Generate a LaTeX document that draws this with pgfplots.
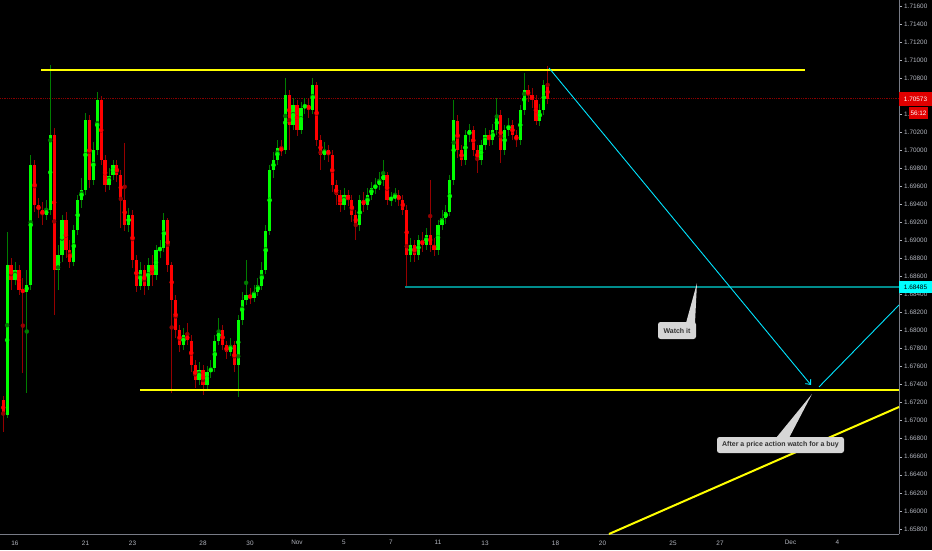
\documentclass[border=0pt]{standalone}
\usepackage{fontspec}
\setmainfont{Liberation Sans}
\usepackage{pgfplots}
\pgfplotsset{compat=1.18}
\usepackage{pgfplotstable}
\usetikzlibrary{arrows.meta}

\definecolor{upbody}{RGB}{0,255,0}
\definecolor{dnbody}{RGB}{255,0,0}
\definecolor{upwick}{RGB}{0,125,0}
\definecolor{dnwick}{RGB}{150,0,0}
\definecolor{ticktext}{RGB}{178,181,190}
\definecolor{axisline}{RGB}{120,123,134}
\definecolor{tealline}{RGB}{0,140,140}
\definecolor{cyanline}{RGB}{0,229,255}
\definecolor{callout}{RGB}{214,214,214}
\definecolor{callouttext}{RGB}{50,50,50}
\definecolor{pricered}{RGB}{224,0,0}
\definecolor{dotred}{RGB}{135,0,0}
\definecolor{lblcyan}{RGB}{0,255,255}
\definecolor{trendyellow}{RGB}{255,255,0}

\pgfplotstableread{
k o h l c
-3 1.6723 1.6728 1.6688 1.6706
-2 1.6706 1.6909 1.6703 1.6873
-1 1.6873 1.6880 1.6845 1.6856
0 1.6856 1.6876 1.6850 1.6867
1 1.6867 1.6873 1.6839 1.6845
2 1.6845 1.6858 1.6753 1.6843
3 1.6843 1.6867 1.6731 1.6850
4 1.6850 1.6995 1.6845 1.6984
5 1.6984 1.6989 1.6931 1.6939
6 1.6939 1.6947 1.6925 1.6934
7 1.6934 1.6943 1.6917 1.6928
8 1.6928 1.6945 1.6923 1.6934
9 1.6934 1.7094 1.6928 1.7017
10 1.7017 1.7025 1.6817 1.6867
11 1.6867 1.6895 1.6845 1.6884
12 1.6884 1.6928 1.6876 1.6923
13 1.6923 1.6931 1.6880 1.6889
14 1.6889 1.6900 1.6869 1.6876
15 1.6876 1.6917 1.6872 1.6911
16 1.6911 1.6950 1.6906 1.6945
17 1.6945 1.6969 1.6936 1.6956
18 1.6956 1.7041 1.6950 1.7033
19 1.7033 1.7039 1.6958 1.6967
20 1.6967 1.7009 1.6961 1.7000
21 1.7000 1.7065 1.6995 1.7056
22 1.7056 1.7060 1.6984 1.6989
23 1.6989 1.6995 1.6954 1.6961
24 1.6961 1.6980 1.6956 1.6972
25 1.6972 1.6989 1.6967 1.6984
26 1.6984 1.6989 1.6965 1.6972
27 1.6972 1.6978 1.6914 1.6945
28 1.6945 1.7008 1.6911 1.6917
29 1.6917 1.6936 1.6909 1.6928
30 1.6928 1.6934 1.6869 1.6878
31 1.6878 1.6884 1.6843 1.6850
32 1.6850 1.6876 1.6845 1.6867
33 1.6867 1.6873 1.6839 1.6850
34 1.6850 1.6880 1.6845 1.6873
35 1.6873 1.6884 1.6850 1.6862
36 1.6862 1.6895 1.6856 1.6889
37 1.6889 1.6900 1.6880 1.6892
38 1.6892 1.6930 1.6887 1.6923
39 1.6923 1.6925 1.6865 1.6873
40 1.6873 1.6876 1.6731 1.6834
41 1.6834 1.6839 1.6792 1.6801
42 1.6801 1.6806 1.6776 1.6784
43 1.6784 1.6803 1.6778 1.6795
44 1.6795 1.6808 1.6784 1.6789
45 1.6789 1.6795 1.6754 1.6762
46 1.6762 1.6767 1.6736 1.6745
47 1.6745 1.6765 1.6740 1.6756
48 1.6756 1.6762 1.6728 1.6740
49 1.6740 1.6761 1.6734 1.6754
50 1.6754 1.6767 1.6747 1.6758
51 1.6758 1.6795 1.6754 1.6789
52 1.6789 1.6814 1.6784 1.6801
53 1.6801 1.6806 1.6778 1.6784
54 1.6784 1.6789 1.6769 1.6776
55 1.6776 1.6792 1.6772 1.6784
56 1.6784 1.6789 1.6754 1.6762
57 1.6762 1.6817 1.6726 1.6812
58 1.6812 1.6843 1.6806 1.6834
59 1.6834 1.6878 1.6828 1.6839
60 1.6839 1.6847 1.6829 1.6836
61 1.6836 1.6850 1.6832 1.6843
62 1.6843 1.6858 1.6838 1.6850
63 1.6850 1.6876 1.6845 1.6867
64 1.6867 1.6917 1.6863 1.6911
65 1.6911 1.6984 1.6906 1.6978
66 1.6978 1.6998 1.6969 1.6989
67 1.6989 1.7011 1.6984 1.7002
68 1.7002 1.7011 1.6994 1.7000
69 1.7000 1.7080 1.6996 1.7061
70 1.7061 1.7067 1.7000 1.7028
71 1.7028 1.7058 1.7022 1.7050
72 1.7050 1.7056 1.7016 1.7022
73 1.7022 1.7053 1.7018 1.7047
74 1.7047 1.7058 1.7040 1.7050
75 1.7050 1.7058 1.7036 1.7045
76 1.7045 1.7080 1.7040 1.7072
77 1.7072 1.7076 1.7005 1.7011
78 1.7011 1.7017 1.6978 1.6995
79 1.6995 1.7009 1.6989 1.7000
80 1.7000 1.7006 1.6987 1.6995
81 1.6995 1.7000 1.6954 1.6961
82 1.6961 1.6967 1.6939 1.6950
83 1.6950 1.6956 1.6931 1.6939
84 1.6939 1.6958 1.6934 1.6950
85 1.6950 1.6956 1.6938 1.6945
86 1.6945 1.6950 1.6920 1.6928
87 1.6928 1.6934 1.6900 1.6917
88 1.6917 1.6950 1.6911 1.6945
89 1.6945 1.6954 1.6931 1.6939
90 1.6939 1.6958 1.6934 1.6950
91 1.6950 1.6965 1.6945 1.6958
92 1.6958 1.6969 1.6951 1.6961
93 1.6961 1.6976 1.6956 1.6967
94 1.6967 1.6989 1.6960 1.6972
95 1.6972 1.6976 1.6939 1.6945
96 1.6945 1.6954 1.6938 1.6947
97 1.6947 1.6958 1.6943 1.6950
98 1.6950 1.6956 1.6938 1.6945
99 1.6945 1.6950 1.6928 1.6934
100 1.6934 1.6939 1.6848 1.6884
101 1.6884 1.6903 1.6876 1.6895
102 1.6895 1.6900 1.6876 1.6884
103 1.6884 1.6906 1.6878 1.6900
104 1.6900 1.6909 1.6887 1.6895
105 1.6895 1.6914 1.6889 1.6906
106 1.6906 1.6967 1.6887 1.6895
107 1.6895 1.6903 1.6883 1.6889
108 1.6889 1.6923 1.6884 1.6917
109 1.6917 1.6934 1.6911 1.6925
110 1.6925 1.6939 1.6918 1.6931
111 1.6931 1.6972 1.6927 1.6967
112 1.6967 1.7056 1.6961 1.7033
113 1.7033 1.7039 1.6991 1.7000
114 1.7000 1.7006 1.6982 1.6989
115 1.6989 1.7022 1.6984 1.7017
116 1.7017 1.7029 1.7009 1.7022
117 1.7022 1.7027 1.6994 1.7000
118 1.7000 1.7006 1.6975 1.6989
119 1.6989 1.7011 1.6984 1.7006
120 1.7006 1.7025 1.7000 1.7017
121 1.7017 1.7022 1.7005 1.7011
122 1.7011 1.7029 1.7006 1.7022
123 1.7022 1.7058 1.7017 1.7039
124 1.7039 1.7045 1.6986 1.7000
125 1.7000 1.7028 1.6995 1.7022
126 1.7022 1.7036 1.7016 1.7028
127 1.7028 1.7033 1.7011 1.7017
128 1.7017 1.7022 1.7004 1.7011
129 1.7011 1.7050 1.7006 1.7045
130 1.7045 1.7086 1.7039 1.7067
131 1.7067 1.7072 1.7053 1.7061
132 1.7061 1.7069 1.7047 1.7056
133 1.7056 1.7061 1.7028 1.7033
134 1.7033 1.7051 1.7027 1.7045
135 1.7045 1.7078 1.7039 1.7072
136 1.7072 1.7094 1.7051 1.70573
}\candles

\begin{document}
\begin{tikzpicture}[x=1pt,y=1pt]
\fill[black] (0,0) rectangle (932,550);
\path[use as bounding box] (0,0) rectangle (932,550);
\begin{axis}[
  scale only axis, width=899pt, height=534pt,
  anchor=south west, at={(0pt,16pt)},
  xmin=-3.83, xmax=225.7, ymin=1.657433, ymax=1.716654,
  clip=false,
  axis x line*=bottom, axis y line*=right,
  axis line style={draw=axisline, line width=0.8pt},
  tick align=outside, major tick length=3pt,
  xtick={0,18,30,48,60,72,84,96,108,120,138,150,168,180,198,210},
  xticklabels={16,21,23,28,30,Nov,5,7,11,13,18,20,25,27,Dec,4},
  xtick style={draw=none},
  ytick={1.658,1.660,1.662,1.664,1.666,1.668,1.670,1.672,1.674,1.676,1.678,1.680,1.682,1.684,1.686,1.688,1.690,1.692,1.694,1.696,1.698,1.700,1.702,1.704,1.708,1.710,1.712,1.714,1.716},
  ytick style={draw=ticktext, line width=0.5pt},
  /pgf/number format/assume math mode=true,
  yticklabel style={/pgf/number format/.cd, fixed, fixed zerofill, precision=5, /tikz/.cd,
    font=\fontsize{6.4}{7}\selectfont, text=ticktext, inner sep=2pt},
  xticklabel style={font=\fontsize{6.4}{7}\selectfont, text=ticktext},
  scaled y ticks=false,
]
% last price dotted line
\addplot[dotred, densely dotted, line width=0.8pt, forget plot] coordinates {(-3.83,1.70573) (225.7,1.70573)};
% wicks
\addplot[only marks, mark=none, color=upwick, forget plot, restrict y to domain=1.6:1.8,
  error bars/.cd, y dir=both, y explicit, error mark=none,
  error bar style={line width=0.8pt}]
  table[x=k, y expr={ifthenelse(\thisrow{c}>\thisrow{o},(\thisrow{h}+\thisrow{l})/2,9)},
        y error expr={(\thisrow{h}-\thisrow{l})/2}] {\candles};
\addplot[only marks, mark=none, color=dnwick, forget plot, restrict y to domain=1.6:1.8,
  error bars/.cd, y dir=both, y explicit, error mark=none,
  error bar style={line width=0.8pt}]
  table[x=k, y expr={ifthenelse(\thisrow{c}<\thisrow{o},(\thisrow{h}+\thisrow{l})/2,9)},
        y error expr={(\thisrow{h}-\thisrow{l})/2}] {\candles};
% bodies
\addplot[only marks, mark=none, color=upbody, forget plot, restrict y to domain=1.6:1.8,
  error bars/.cd, y dir=both, y explicit, error mark=none,
  error bar style={line width=3.2pt}]
  table[x=k, y expr={ifthenelse(\thisrow{c}>\thisrow{o},(\thisrow{o}+\thisrow{c})/2,9)},
        y error expr={abs(\thisrow{c}-\thisrow{o})/2}] {\candles};
\addplot[only marks, mark=none, color=dnbody, forget plot, restrict y to domain=1.6:1.8,
  error bars/.cd, y dir=both, y explicit, error mark=none,
  error bar style={line width=3.2pt}]
  table[x=k, y expr={ifthenelse(\thisrow{c}<\thisrow{o},(\thisrow{o}+\thisrow{c})/2,9)},
        y error expr={abs(\thisrow{c}-\thisrow{o})/2}] {\candles};
% drawings
\addplot[trendyellow, line width=2pt, forget plot] coordinates {(6.64,1.7089) (201.7,1.7089)};
\addplot[trendyellow, line width=2pt, forget plot] coordinates {(31.9,1.6734) (225.7,1.6734)};
\addplot[trendyellow, line width=2pt, forget plot] coordinates {(151.66,1.657433) (225.7,1.67152)};
\addplot[tealline, line width=1.5pt, forget plot] coordinates {(99.6,1.68485) (225.7,1.68485)};
\addplot[cyanline, line width=0.9pt, forget plot, -{Straight Barb[length=4pt,width=7pt]}] coordinates {(136.35,1.70911) (203.23,1.67396)};
\addplot[cyanline, line width=0.9pt, forget plot] coordinates {(205.27,1.67374) (225.7,1.68283)};
\end{axis}
% callout: Watch it
\fill[callout] (686,227) -- (697,267) -- (695,227) -- cycle;
\fill[callout, rounded corners=2.5pt] (658,211) rectangle (696,228);
\node[text=callouttext, font=\bfseries\fontsize{7}{8}\selectfont, inner sep=0pt] at (677,219.5) {Watch it};
% callout: After a price action
\fill[callout] (776,112) -- (812,156) -- (789,112) -- cycle;
\fill[callout, rounded corners=2.5pt] (717,97) rectangle (844,113);
\node[text=callouttext, font=\bfseries\fontsize{7}{8}\selectfont, inner sep=0pt] at (780.5,105) {After a price action watch for a buy};
% price labels
\fill[pricered] (899,444) rectangle (932,458);
\node[text=white, font=\fontsize{6.4}{7}\selectfont, inner sep=0pt] at (915.5,451) {1.70573};
\fill[pricered] (909,431) rectangle (928,443);
\node[text=white, font=\fontsize{6.4}{7}\selectfont, inner sep=0pt] at (918.5,437) {56:12};
\fill[lblcyan] (899,257) rectangle (932,269);
\node[text=black, font=\fontsize{6.4}{7}\selectfont, inner sep=0pt] at (915.5,263) {1.68485};
\end{tikzpicture}
\end{document}
